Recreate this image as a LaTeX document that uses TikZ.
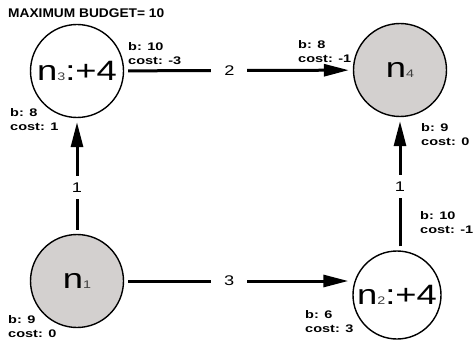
\documentclass[tikz,border=0pt]{standalone}
\usepackage{fontspec}
\setmainfont{Liberation Sans}
\newfontfamily\widefont[FakeStretch=1.3]{Liberation Sans}
\newfontfamily\labelfont[FakeStretch=1.32]{Liberation Sans Bold}
\newfontfamily\titlefont[FakeStretch=1.09]{Liberation Sans Bold}
\usetikzlibrary{arrows.meta,positioning}
\definecolor{nodegray}{RGB}{211,208,207}
\tikzset{
  vertex/.style={circle, draw, line width=1.4pt, minimum size=93pt, inner sep=0pt,
    font=\widefont\fontsize{28}{28}\selectfont},
  link/.style={line width=3pt, ->, shorten <=4pt, shorten >=4pt},
  weight/.style={fill=white, inner xsep=13pt, inner ysep=7pt,
    font=\widefont\fontsize{14}{14}\selectfont},
  info/.style={anchor=north west, align=left, inner sep=0pt,
    font=\labelfont\fontsize{11}{14}\selectfont},
}
\newcommand{\nsub}[1]{{\fontsize{11}{11}\selectfont\color{darkgray}#1}}

\begin{document}
\begin{tikzpicture}[x=1pt,y=-1pt, >={Triangle[length=25pt,width=12pt]}]
        \useasboundingbox (0,0) rectangle (473,342);
        % nodes
        \node[vertex, fill=nodegray] (n1) at (77,281) {n\nsub{1}};
        \node[vertex, minimum size=88pt] (n2) at (397,295) {n\nsub{2}:+4};
        \node[vertex] (n3) at (77,71) {n\nsub{3}:+4};
        \node[vertex, fill=nodegray] (n4) at (400,70) {n\nsub{4}};
        % edges
        \draw[link] (n1) -- node[weight, pos=0.4] {1} (n3);
        \draw[link] (n1.east) -- node[weight, pos=0.46] {3} (n1.east -| n2.west);
        \draw[link] (n3) -- node[weight, pos=0.46] {2} (n4);
        \draw[link] (n4 |- n2.north) -- node[weight, pos=0.48] {1} (n4.south);
        % budget labels
        \node[info, anchor=base west, font=\titlefont\fontsize{12.6}{14}\selectfont] (budget) at (8,18) {MAXIMUM BUDGET= 10};
        \node[info] (i3a) at (10,108) {b: 8\\cost: 1};
        \node[info] (i3b) at (128,42) {b: 10\\cost: -3};
        \node[info] (i4a) at (298,40) {b: 8\\cost: -1};
        \node[info] (i4b) at (421,123) {b: 9\\cost: 0};
        \node[info] (i1) at (8,315) {b: 9\\cost: 0};
        \node[info] (i2a) at (305,310) {b: 6\\cost: 3};
        \node[info] (i2b) at (420,211) {b: 10\\cost: -1};
      \end{tikzpicture}
\end{document}
